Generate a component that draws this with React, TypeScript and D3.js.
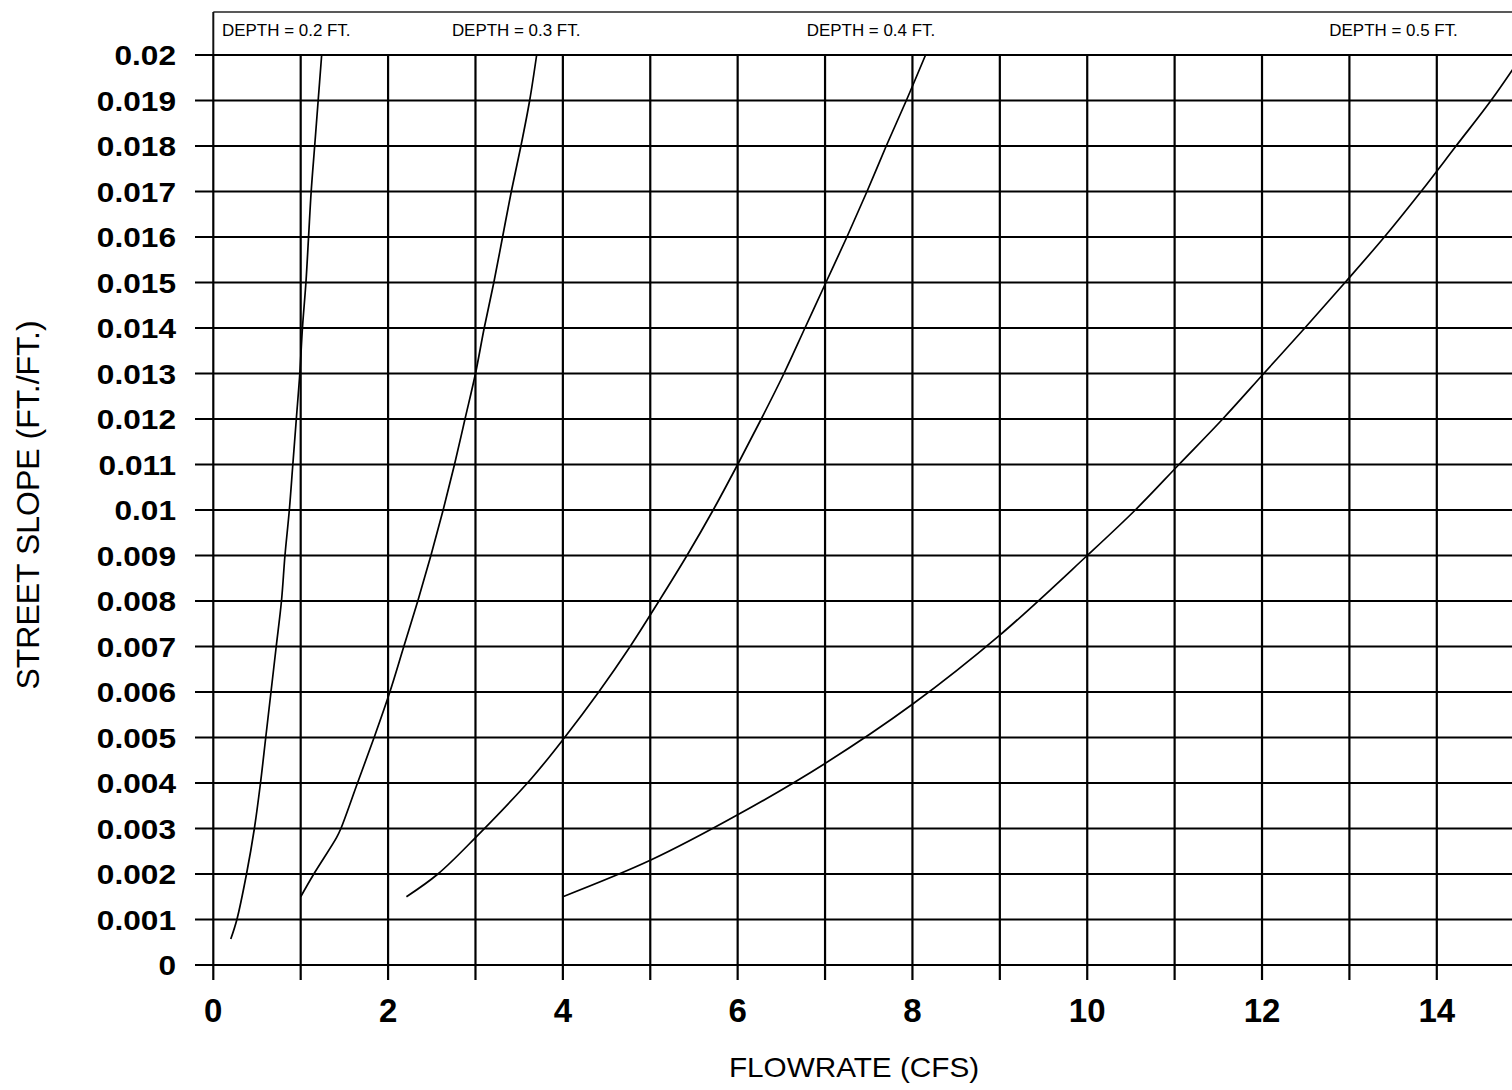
import { useEffect, useRef } from 'react'
import * as d3 from 'd3'

const SIZE = { width: 1512, height: 1090 }

// flow (cfs), street slope (ft/ft)
const DEPTH_02: [number, number][] = [
    [0.2, 0.00057], [0.27, 0.001], [0.38, 0.002], [0.47, 0.003], [0.54, 0.004], [0.6, 0.005],
    [0.66, 0.006], [0.72, 0.007], [0.78, 0.008], [0.82, 0.009], [0.87, 0.010], [0.91, 0.011],
    [0.95, 0.012], [0.99, 0.013], [1.02, 0.014], [1.06, 0.015], [1.09, 0.016], [1.12, 0.017],
    [1.16, 0.018], [1.2, 0.019], [1.24, 0.020],
]
const DEPTH_03: [number, number][] = [
    [1.0, 0.0015], [1.15, 0.002], [1.41, 0.0028], [1.46, 0.003], [1.65, 0.004], [1.84, 0.005],
    [2.02, 0.006], [2.18, 0.007], [2.34, 0.008], [2.49, 0.009], [2.63, 0.010], [2.76, 0.011],
    [2.88, 0.012], [3.0, 0.013], [3.1, 0.014], [3.21, 0.015], [3.31, 0.016], [3.41, 0.017],
    [3.52, 0.018], [3.62, 0.019], [3.7, 0.020],
]
const DEPTH_04: [number, number][] = [
    [2.21, 0.0015], [2.57, 0.002], [3.0, 0.0028], [3.64, 0.0041], [4.02, 0.005], [4.41, 0.006],
    [4.77, 0.007], [5.1, 0.008], [5.42, 0.009], [5.72, 0.010], [6.0, 0.011], [6.27, 0.012],
    [6.53, 0.013], [6.77, 0.014], [7.01, 0.015], [7.25, 0.016], [7.48, 0.017], [7.7, 0.018],
    [7.93, 0.019], [8.15, 0.020],
]
const DEPTH_05: [number, number][] = [
    [4.0, 0.0015], [5.0, 0.0023], [6.0, 0.0033], [7.0, 0.00443], [8.0, 0.00573], [9.0, 0.00725],
    [10.0, 0.0090], [10.55, 0.010], [11.05, 0.011], [11.55, 0.012], [12.02, 0.013], [12.49, 0.014],
    [12.95, 0.015], [13.4, 0.016], [13.82, 0.017], [14.22, 0.018], [14.62, 0.019], [14.98, 0.020],
]
const CURVES = [DEPTH_02, DEPTH_03, DEPTH_04, DEPTH_05]

const DEPTH_LABELS = ['DEPTH = 0.2 FT.', 'DEPTH = 0.3 FT.', 'DEPTH = 0.4 FT.', 'DEPTH = 0.5 FT.']
const DEPTH_LABEL_FLOWS = [0.1, 2.73, 6.79, 12.77]

const FLOW_TICKS = [0, 2, 4, 6, 8, 10, 12, 14]
const FLOW_GRID = [0, 1, 2, 3, 4, 5, 6, 7, 8, 9, 10, 11, 12, 13, 14, 15]
const SLOPE_TICKS = [0, 0.001, 0.002, 0.003, 0.004, 0.005, 0.006, 0.007, 0.008, 0.009, 0.01,
    0.011, 0.012, 0.013, 0.014, 0.015, 0.016, 0.017, 0.018, 0.019, 0.02]

export default function App(){

    const svgRef = useRef<SVGSVGElement|null>(null)

    useEffect(()=>{
        const svg = d3.select(svgRef.current)
            .attr('width', SIZE.width)
            .attr('height', SIZE.height)
        svg.selectAll('*').remove()

        const x = d3.scaleLinear().domain([0, 14]).range([213.3, 1436.8])
        const y = d3.scaleLinear().domain([0, 0.02]).range([965, 55])
        const font = '"Liberation Sans", Arial, Helvetica, sans-serif'

        svg.append('rect')
            .attr('width', SIZE.width)
            .attr('height', SIZE.height)
            .attr('fill', '#fff')

        //header frame
        svg.append('line')
            .attr('x1', x(0)).attr('x2', SIZE.width)
            .attr('y1', 12).attr('y2', 12)
            .attr('stroke', '#222').attr('stroke-width', 1.4)
        svg.append('line')
            .attr('x1', x(0)).attr('x2', x(0))
            .attr('y1', 12).attr('y2', y(0.02))
            .attr('stroke', '#111').attr('stroke-width', 2)

        //grid, with ticks sticking out left and bottom
        svg.selectAll('.hgrid')
            .data(SLOPE_TICKS)
            .enter()
            .append('line')
            .attr('x1', 195).attr('x2', SIZE.width)
            .attr('y1', (d:any) => y(d)).attr('y2', (d:any) => y(d))
            .attr('stroke', '#000').attr('stroke-width', 2.2)
        svg.selectAll('.vgrid')
            .data(FLOW_GRID)
            .enter()
            .append('line')
            .attr('x1', (d:any) => x(d)).attr('x2', (d:any) => x(d))
            .attr('y1', y(0.02)).attr('y2', 980)
            .attr('stroke', '#000').attr('stroke-width', 2.2)

        //tick labels
        svg.selectAll('.ylab')
            .data(SLOPE_TICKS)
            .enter()
            .append('text')
            .attr('transform', (d:any) => `translate(176,${y(d) + 10}) scale(1.13,1)`)
            .attr('text-anchor', 'end')
            .attr('font-family', font)
            .attr('font-weight', 'bold')
            .attr('font-size', '28px')
            .text((d:any) => String(+d.toFixed(3)))
        svg.selectAll('.xlab')
            .data(FLOW_TICKS)
            .enter()
            .append('text')
            .attr('x', (d:any) => x(d))
            .attr('y', 1022)
            .attr('text-anchor', 'middle')
            .attr('font-family', font)
            .attr('font-weight', 'bold')
            .attr('font-size', '33px')
            .text((d:any) => d)

        //axis titles
        svg.append('text')
            .attr('transform', 'translate(854,1077) scale(1.1,1)')
            .attr('text-anchor', 'middle')
            .attr('font-family', font)
            .attr('font-size', '27px')
            .text('FLOWRATE (CFS)')
        svg.append('text')
            .attr('transform', 'translate(39,505) rotate(-90)')
            .attr('text-anchor', 'middle')
            .attr('font-family', font)
            .attr('font-size', '32px')
            .text('STREET SLOPE (FT./FT.)')

        //depth labels in the header strip
        svg.selectAll('.dlab')
            .data(DEPTH_LABELS)
            .enter()
            .append('text')
            .attr('transform', (d:any, i:any) => `translate(${x(DEPTH_LABEL_FLOWS[i])},36) scale(1.06,1)`)
            .attr('font-family', font)
            .attr('font-size', '16px')
            .text((d:any) => d)

        //curves
        const line = d3.line<[number, number]>()
            .x(d => x(d[0]))
            .y(d => y(d[1]))
            .curve(d3.curveCatmullRom.alpha(0.5))
        svg.selectAll('.curve')
            .data(CURVES)
            .enter()
            .append('path')
            .attr('d', (d:any) => line(d))
            .attr('fill', 'none')
            .attr('stroke', '#000')
            .attr('stroke-width', 1.7)

        return
    },[])

    return <svg ref={svgRef} style={{position: 'absolute', left: 0, top: 0, display: 'block'}}></svg>
}
